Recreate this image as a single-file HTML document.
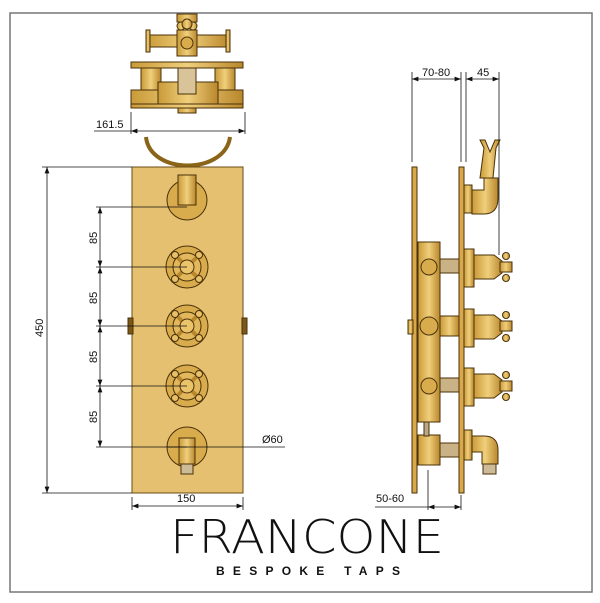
<!DOCTYPE html>
<html><head><meta charset="utf-8"><style>
html,body{margin:0;padding:0;background:#fff;width:600px;height:603px;overflow:hidden}
svg{display:block}
text{font-family:"Liberation Sans",sans-serif;fill:#111}
</style></head><body>
<svg width="600" height="603" viewBox="0 0 600 603" xmlns="http://www.w3.org/2000/svg">
<defs>
<marker id="a" markerWidth="8" markerHeight="6" refX="8" refY="3" orient="auto-start-reverse"><path d="M0,0 L8,3 L0,6z" fill="#111"/></marker>
<linearGradient id="g" x1="0" x2="1"><stop offset="0" stop-color="#c99a38"/><stop offset=".5" stop-color="#f0cf7c"/><stop offset="1" stop-color="#b9872c"/></linearGradient>
<g id="h">
<circle r="21" fill="#d8ab4c"/><circle r="14" fill="#e3b85c"/>
<g stroke-width="4" stroke="#b8862c"><line x1="-12" y1="-12" x2="12" y2="12"/><line x1="12" y1="-12" x2="-12" y2="12"/></g>
<circle cx="-12" cy="-12" r="3.5" fill="#e8c06a"/><circle cx="12" cy="-12" r="3.5" fill="#e8c06a"/><circle cx="-12" cy="12" r="3.5" fill="#e8c06a"/><circle cx="12" cy="12" r="3.5" fill="#e8c06a"/>
<circle r="7" fill="#eac46a"/>
</g>
</defs>
<rect x="10" y="13" width="582" height="579" fill="none" stroke="#777" stroke-width="1.5"/>
<g stroke="#4a3208" stroke-width="1">
<rect x="177" y="14" width="20" height="8" fill="url(#g)"/>
<circle cx="181" cy="26" r="4" fill="url(#g)"/><circle cx="193" cy="26" r="4" fill="url(#g)"/><circle cx="187" cy="24" r="5" fill="url(#g)"/>
<path d="M148,35 L228,35 L230,47 L146,47Z" fill="url(#g)"/>
<rect x="146" y="30" width="4" height="22" fill="url(#g)"/><rect x="226" y="30" width="4" height="22" fill="url(#g)"/>
<rect x="177" y="30" width="20" height="26" fill="url(#g)"/>
<circle cx="187" cy="43" r="6" fill="#d8ab4c"/>
<rect x="131" y="62" width="112" height="6" fill="url(#g)"/>
<rect x="141" y="68" width="20" height="32" fill="url(#g)"/><rect x="215" y="68" width="20" height="32" fill="url(#g)"/>
<rect x="131" y="90" width="112" height="15" fill="url(#g)"/>
<rect x="158" y="82" width="60" height="24" fill="url(#g)"/>
<rect x="178" y="68" width="18" height="26" fill="#d9c49a"/>
<rect x="131" y="104" width="112" height="4" fill="url(#g)"/>
<rect x="178" y="108" width="18" height="5" fill="url(#g)"/>
<path d="M146,137 C150,175 225,175 230,137" fill="none" stroke="#8a6418" stroke-width="4"/>
<rect x="132" y="167" width="111" height="326" fill="#e6c071" stroke="#6a4c14"/>
<rect x="128" y="318" width="5" height="16" fill="#7a5818"/><rect x="242" y="318" width="5" height="16" fill="#7a5818"/>
<circle cx="187" cy="200" r="20" fill="#d8ab4c"/><rect x="178" y="175" width="18" height="30" fill="url(#g)"/>
<circle cx="187" cy="447" r="20" fill="#d8ab4c"/><rect x="179" y="438" width="16" height="26" fill="url(#g)"/><rect x="181" y="464" width="12" height="10" fill="#cdbb98"/>
<use href="#h" x="187" y="267"/><use href="#h" x="187" y="326"/><use href="#h" x="187" y="386"/>
<rect x="412" y="167" width="5" height="326" fill="#d8a84a"/>
<rect x="459" y="167" width="5" height="326" fill="#d8a84a"/>
<rect x="418" y="242" width="22" height="180" fill="url(#g)"/>
<circle cx="429" cy="267" r="8" fill="#d8ab4c"/><circle cx="429" cy="386" r="8" fill="#d8ab4c"/><circle cx="429" cy="326" r="9" fill="#d8ab4c"/>
<rect x="440" y="316" width="19" height="20" fill="url(#g)"/>
<rect x="440" y="259" width="19" height="14" fill="#c9b285"/><rect x="440" y="378" width="19" height="14" fill="#c9b285"/>
<rect x="408" y="320" width="5" height="14" fill="url(#g)"/>
<rect x="418" y="435" width="22" height="30" fill="url(#g)"/><rect x="440" y="443" width="19" height="14" fill="#c9b285"/>
<rect x="424" y="422" width="5" height="14" fill="#b8a888"/>
<g fill="url(#g)">
<rect x="464" y="249" width="10" height="38"/><path d="M474,255 h20 l8,6 v12 l-8,6 h-20z"/><rect x="500" y="262" width="12" height="10"/><circle cx="506" cy="256" r="3.5"/><circle cx="506" cy="278" r="3.5"/>
<rect x="464" y="309" width="10" height="38"/><path d="M474,315 h20 l8,6 v12 l-8,6 h-20z"/><rect x="500" y="321" width="12" height="10"/><circle cx="506" cy="315" r="3.5"/><circle cx="506" cy="338" r="3.5"/>
<rect x="464" y="368" width="10" height="38"/><path d="M474,374 h20 l8,6 v12 l-8,6 h-20z"/><rect x="500" y="381" width="12" height="10"/><circle cx="506" cy="375" r="3.5"/><circle cx="506" cy="397" r="3.5"/>
<rect x="464" y="185" width="8" height="28"/><path d="M472,190 h12 v-12 h14 v20 q0,16 -14,16 h-12z"/><path d="M480,178 l4,-30 l-4,-8 h5 l5,12 l5,-12 h5 l-4,8 l-3,30z"/>
<rect x="464" y="430" width="8" height="30"/><path d="M472,436 h12 q14,0 14,14 v14 h-16 v-12 h-10z"/>
</g>
<rect x="483" y="464" width="13" height="10" fill="#cdbb98"/>
</g>
<g stroke="#111" stroke-width="0.8" fill="none">
<line x1="131" y1="112" x2="131" y2="134"/><line x1="245" y1="112" x2="245" y2="134"/>
<line x1="94" y1="131" x2="131" y2="131"/>
<line x1="131" y1="131" x2="245" y2="131" marker-start="url(#a)" marker-end="url(#a)"/>
<line x1="42" y1="167" x2="132" y2="167"/><line x1="42" y1="493" x2="132" y2="493"/>
<line x1="47" y1="167" x2="47" y2="493" marker-start="url(#a)" marker-end="url(#a)"/>
<line x1="96" y1="207" x2="187" y2="207"/><line x1="96" y1="267" x2="187" y2="267"/><line x1="96" y1="326" x2="187" y2="326"/><line x1="96" y1="386" x2="187" y2="386"/><line x1="96" y1="447" x2="187" y2="447"/>
<line x1="100" y1="207" x2="100" y2="267" marker-start="url(#a)" marker-end="url(#a)"/>
<line x1="100" y1="267" x2="100" y2="326" marker-start="url(#a)" marker-end="url(#a)"/>
<line x1="100" y1="326" x2="100" y2="386" marker-start="url(#a)" marker-end="url(#a)"/>
<line x1="100" y1="386" x2="100" y2="447" marker-start="url(#a)" marker-end="url(#a)"/>
<line x1="167" y1="447" x2="285" y2="447"/>
<line x1="132" y1="497" x2="132" y2="510"/><line x1="243" y1="497" x2="243" y2="510"/>
<line x1="132" y1="506" x2="243" y2="506" marker-start="url(#a)" marker-end="url(#a)"/>
<line x1="412" y1="72" x2="412" y2="162"/><line x1="461" y1="72" x2="461" y2="162"/><line x1="466" y1="72" x2="466" y2="162"/><line x1="499" y1="72" x2="499" y2="255"/>
<line x1="412" y1="79" x2="461" y2="79" marker-start="url(#a)" marker-end="url(#a)"/>
<line x1="466" y1="79" x2="499" y2="79" marker-start="url(#a)" marker-end="url(#a)"/>
<line x1="428" y1="470" x2="428" y2="510"/><line x1="461" y1="495" x2="461" y2="510"/>
<line x1="375" y1="507" x2="428" y2="507"/>
<line x1="428" y1="507" x2="461" y2="507" marker-start="url(#a)" marker-end="url(#a)"/>
</g>
<g font-size="11">
<text x="96" y="128">161.5</text>
<text x="262" y="443">Ø60</text>
<text x="177" y="502">150</text>
<text x="422" y="76">70-80</text>
<text x="477" y="76">45</text>
<text x="376" y="502">50-60</text>
<text transform="translate(43,337) rotate(-90)">450</text>
<text transform="translate(97,244) rotate(-90)">85</text>
<text transform="translate(97,304) rotate(-90)">85</text>
<text transform="translate(97,363) rotate(-90)">85</text>
<text transform="translate(97,423) rotate(-90)">85</text>
</g>
<text x="307" y="553" font-size="46" text-anchor="middle" textLength="274" lengthAdjust="spacingAndGlyphs" style="font-family:'DejaVu Sans','Liberation Sans',sans-serif;font-weight:200;fill:#111">FRANCONE</text>
<text x="308" y="575" font-size="12" font-weight="bold" text-anchor="middle" textLength="184" lengthAdjust="spacing">BESPOKE TAPS</text>
</svg>
</body></html>
